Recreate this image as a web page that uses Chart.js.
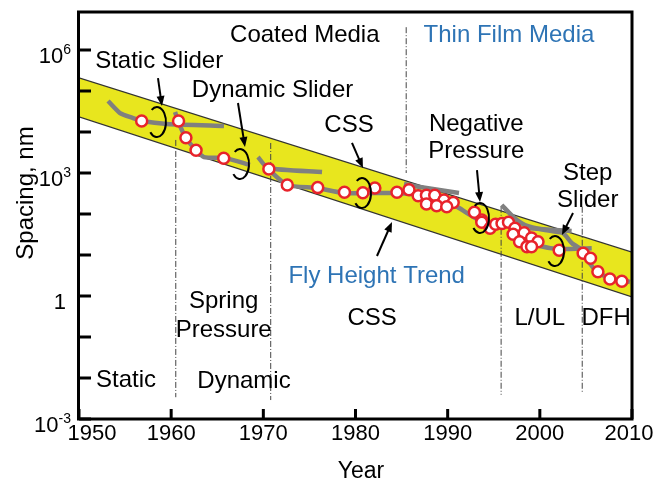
<!DOCTYPE html>
<html>
<head>
<meta charset="utf-8">
<script src="https://cdn.jsdelivr.net/npm/chart.js@4.4.1/dist/chart.umd.min.js"></script>
<style>
  html, body { margin: 0; padding: 0; background: #fff; }
  #wrap { width: 667px; height: 482px; }
</style>
</head>
<body>
<div id="wrap"><canvas id="flyHeight"></canvas></div>
<script>
// ---- datos ----
const xTicks = [1950, 1960, 1970, 1980, 1990, 2000, 2010];
const yTicks = [1e-3, 1e-2, 1e-1, 1, 10, 100, 1e3, 1e4, 1e5, 1e6];
const yTickLabels = [['10', '-3', 1e-3], ['1', '', 1], ['10', '3', 1e3], ['10', '6', 1e6]];

// banda amarilla (tendencia)
const bandYears = [1950, 2010];
const bandUpper = [209000, 11.7];
const bandLower = [23400, 0.95];

// puntos (círculos rojos)
const pointYears = [1956.8, 1960.8, 1961.6, 1962.7, 1965.7, 1970.6, 1972.6, 1975.9, 1978.8, 1980.8,
  1982.1, 1984.5, 1985.8, 1986.8, 1987.7, 1988.6, 1989.6, 1990.6, 1987.7, 1988.8,
  1989.9, 1992.9, 1993.7, 1993.7, 1994.6, 1995.2, 1995.9, 1996.6, 1997.3, 1998.3,
  1997.1, 1999.1, 1999.8, 1997.8, 1998.6, 1999.1, 2002.1, 2004.7, 2005.5, 2006.3,
  2007.6, 2008.9];
const pointSpacing = [18600, 18600, 7200, 3600, 2300, 1260, 510, 440, 340, 330,
  430, 340, 390, 280, 285, 285, 220, 190, 175, 160,
  150, 110, 71, 63, 45, 56, 59, 63, 45, 35,
  32, 26, 21, 21, 16, 16, 13, 11, 8.3, 3.9,
  2.6, 2.3];

// líneas grises [año, nm]
const trendStatic = [[1953.15, 57000], [1954.45, 29000], [1955.86, 21900], [1956.84, 18500], [1959.55, 15700], [1965.73, 14000]];
const trendDynamicA = [[1960.42, 30800], [1960.74, 18500], [1961.61, 7100], [1962.69, 3640], [1963.56, 2450], [1965.84, 2320], [1968.55, 1570]];
const trendDynamicB = [[1969.42, 2450], [1970.51, 1320], [1976.37, 1060]];
const trendCSS = [[1970.51, 1250], [1972.57, 510], [1975.82, 430], [1978.75, 325], [1984.5, 325], [1987.0, 290], [1989.71, 220], [1990.9, 157], [1992.64, 89], [1994.05, 60], [1995.46, 54]];
const trendThinFilm = [[1985.26, 540], [1987.0, 456], [1991.23, 325]];
const trendNegPressure = [[1995.86, 166], [1997.09, 86], [1998.39, 54], [2000.56, 40.7], [2002.73, 34.4]];
const trendLUL = [[1998.39, 23.2], [2000.02, 16.6], [2001.97, 14], [2005.63, 14.6]];
const trendStep = [[1998.93, 44.8], [2003.45, 38.5]];
const trendStepCurve = [[2002.37, 37], [2002.84, 29], [2003.49, 19.3], [2004.36, 14.6]];
const trendDFH = [[2004.57, 11.2], [2006.2, 3.85], [2007.61, 2.75], [2009.78, 2.2]];

// divisiones verticales
const dividerYears = [1960.5, 1970.8, 1985.5, 1995.8, 2004.6];
const dividerTop = [6400, 5400, 3.6e6, 150, 150];
const dividerBottom = [0.0034, 0.0029, 1000, 0.0039, 0.0043];

// textos, flechas y arcos (en unidades de datos)
const BLUE = '#2e74b5';
const notes = [
  { t: 'Static Slider', x: 1958.7, y: 364000 },
  { t: 'Dynamic Slider', x: 1971.0, y: 71400 },
  { t: 'Coated Media', x: 1974.5, y: 1.57e6 },
  { t: 'Thin Film Media', x: 1996.65, y: 1.57e6, c: BLUE },
  { t: 'CSS', x: 1979.3, y: 10000 },
  { t: 'Negative', x: 1993.1, y: 10600 },
  { t: 'Pressure', x: 1993.1, y: 2260 },
  { t: 'Step', x: 2005.2, y: 675 },
  { t: 'Slider', x: 2005.2, y: 148 },
  { t: 'Fly Height Trend', x: 1982.3, y: 2.07, c: BLUE },
  { t: 'Spring', x: 1965.7, y: 0.509 },
  { t: 'Pressure', x: 1965.7, y: 0.1 },
  { t: 'CSS', x: 1981.8, y: 0.196 },
  { t: 'L/UL', x: 2000.0, y: 0.196 },
  { t: 'DFH', x: 2007.2, y: 0.196 },
  { t: 'Static', x: 1955.1, y: 0.00603 },
  { t: 'Dynamic', x: 1967.9, y: 0.0057 }
];
const arrows = [
  [1958.57, 207000, 1959.0, 43000],
  [1967.25, 50900, 1968.01, 4300],
  [1979.62, 5400, 1980.81, 1320],
  [1993.18, 1180, 1993.51, 196],
  [2003.6, 106, 2002.4, 30.8],
  [1982.33, 9.46, 1983.96, 63.8]
];
const loops = [
  [1958.46, 17500],
  [1967.47, 1660],
  [1980.71, 325],
  [1993.51, 80],
  [2001.65, 12.5]
];

const FONT = "'Liberation Sans', Arial, Helvetica, sans-serif";

const pairs = arr => arr.map(p => ({ x: p[0], y: p[1] }));
const zip = (xs, ys) => xs.map((x, i) => ({ x: x, y: ys[i] }));

function greyLine(data) {
  return {
    data: pairs(data), showLine: true, borderColor: '#808080', borderWidth: 4.5,
    pointRadius: 0, tension: 0.2, fill: false, order: 5,
    borderJoinStyle: 'round'
  };
}

const datasets = [];
datasets.push({
  data: zip(bandYears, bandUpper), showLine: true, borderColor: '#333', borderWidth: 1.2,
  pointRadius: 0, fill: false, order: 10
});
datasets.push({
  data: zip(bandYears, bandLower), showLine: true, borderColor: '#333', borderWidth: 1.2,
  pointRadius: 0, fill: '-1', backgroundColor: '#e8e61e', order: 10
});
dividerYears.forEach(function (yr, i) {
  datasets.push({
    data: [{ x: yr, y: dividerTop[i] }, { x: yr, y: dividerBottom[i] }],
    showLine: true, borderColor: '#444', borderWidth: 1, borderDash: [6, 2, 1, 2],
    pointRadius: 0, fill: false, order: 8
  });
});
[trendStatic, trendDynamicA, trendDynamicB, trendCSS, trendThinFilm, trendNegPressure,
  trendLUL, trendStep, trendStepCurve, trendDFH].forEach(function (t) { datasets.push(greyLine(t)); });
datasets.push({
  data: zip(pointYears, pointSpacing), showLine: false, pointRadius: 5.5,
  pointBackgroundColor: '#fff', pointBorderColor: '#e8232b', pointBorderWidth: 2.5, order: 1
});

const decor = {
  id: 'decor',
  afterDatasetsDraw(chart) {
    const ctx = chart.ctx, a = chart.chartArea, x = chart.scales.x, y = chart.scales.y;
    ctx.save();
    ctx.strokeStyle = '#000';
    ctx.fillStyle = '#000';
    ctx.lineWidth = 2;
    // arcos
    loops.forEach(function (l) {
      ctx.beginPath();
      ctx.ellipse(x.getPixelForValue(l[0]), y.getPixelForValue(l[1]), 9, 15, 0, -2.2, 2.4);
      ctx.stroke();
    });
    // flechas
    arrows.forEach(function (ar) {
      const x1 = x.getPixelForValue(ar[0]), y1 = y.getPixelForValue(ar[1]);
      const x2 = x.getPixelForValue(ar[2]), y2 = y.getPixelForValue(ar[3]);
      const ang = Math.atan2(y2 - y1, x2 - x1);
      ctx.beginPath();
      ctx.moveTo(x1, y1);
      ctx.lineTo(x2 - 6 * Math.cos(ang), y2 - 6 * Math.sin(ang));
      ctx.stroke();
      ctx.beginPath();
      ctx.moveTo(x2, y2);
      ctx.lineTo(x2 - 10 * Math.cos(ang) + 4 * Math.sin(ang), y2 - 10 * Math.sin(ang) - 4 * Math.cos(ang));
      ctx.lineTo(x2 - 10 * Math.cos(ang) - 4 * Math.sin(ang), y2 - 10 * Math.sin(ang) + 4 * Math.cos(ang));
      ctx.closePath();
      ctx.fill();
    });
    // marco
    ctx.lineWidth = 3;
    ctx.strokeRect(a.left - 0.5, a.top, a.right - a.left + 0.5, a.bottom - a.top);
    // marcas hacia dentro
    yTicks.forEach(function (v) {
      const py = y.getPixelForValue(v);
      ctx.beginPath(); ctx.moveTo(a.left, py); ctx.lineTo(a.left + 12, py); ctx.stroke();
    });
    xTicks.forEach(function (v) {
      const px = x.getPixelForValue(v);
      ctx.beginPath(); ctx.moveTo(px, a.bottom); ctx.lineTo(px, a.bottom - 10); ctx.stroke();
    });
    // etiquetas eje x
    ctx.font = '22px ' + FONT;
    ctx.textAlign = 'center';
    ctx.textBaseline = 'alphabetic';
    xTicks.forEach(function (v, i) {
      let px = x.getPixelForValue(v);
      if (i === 0) px += 13;
      if (i === xTicks.length - 1) px -= 3;
      ctx.fillText(String(v), px, a.bottom + 21);
    });
    // etiquetas eje y
    yTickLabels.forEach(function (lb) {
      const base = y.getPixelForValue(lb[2]) + 13;
      ctx.font = '14px ' + FONT;
      const sw = lb[1] ? ctx.measureText(lb[1]).width : 0;
      ctx.textAlign = 'left';
      if (lb[1]) ctx.fillText(lb[1], 71 - sw, base - 9);
      ctx.font = '22px ' + FONT;
      ctx.textAlign = 'right';
      ctx.fillText(lb[0], lb[1] ? 71 - sw : 66, base);
    });
    // textos
    ctx.font = '24px ' + FONT;
    ctx.textAlign = 'center';
    notes.forEach(function (n) {
      ctx.fillStyle = n.c || '#000';
      ctx.fillText(n.t, x.getPixelForValue(n.x), y.getPixelForValue(n.y));
    });
    // títulos
    ctx.fillStyle = '#000';
    ctx.font = '23px ' + FONT;
    ctx.fillText('Year', 361, 478);
    ctx.translate(26, 193);
    ctx.rotate(-Math.PI / 2);
    ctx.textBaseline = 'middle';
    ctx.font = '24px ' + FONT;
    ctx.fillText('Spacing, nm', 0, 0);
    ctx.restore();
  }
};

document.addEventListener('DOMContentLoaded', function () {
  const ctx = document.getElementById('flyHeight').getContext('2d');
  new Chart(ctx, {
    type: 'scatter',
    data: { datasets: datasets },
    options: {
      responsive: true,
      maintainAspectRatio: false,
      animation: false,
      layout: { padding: { left: 0, top: 12, right: 35, bottom: 0 } },
      plugins: { legend: { display: false }, tooltip: { enabled: false } },
      scales: {
        x: {
          type: 'linear', min: 1950, max: 2010,
          ticks: { display: false },
          grid: { display: false, drawTicks: false },
          border: { display: false },
          afterFit: function (s) { s.height = 63; }
        },
        y: {
          type: 'logarithmic', min: 0.001, max: 8.45e6,
          ticks: { display: false },
          grid: { display: false, drawTicks: false },
          border: { display: false },
          afterFit: function (s) { s.width = 79; }
        }
      }
    },
    plugins: [decor]
  });
});
</script>
</body>
</html>
